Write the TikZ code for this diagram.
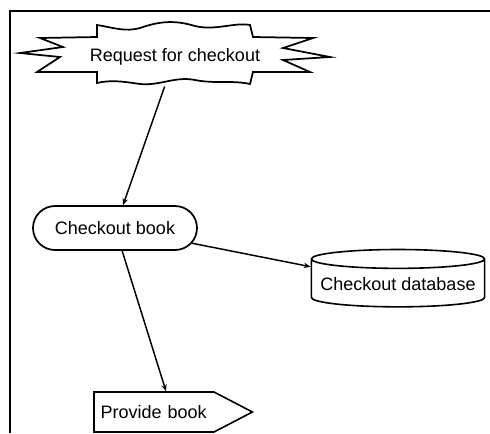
\documentclass[tikz,border=0pt]{standalone}
\usepackage{fontspec}
\setmainfont{Liberation Sans}
\usetikzlibrary{shapes.geometric,shapes.symbols,shapes.misc,arrows.meta}

\tikzset{
  flowtext/.style={font=\fontsize{13.5}{15}\selectfont, inner sep=0.75pt},
  flowline/.style={line width=1.1pt, -{Stealth[length=5pt,width=4pt]}},
  bookbox/.style={flowtext, rounded rectangle, draw, line width=1.3pt, minimum width=124.5pt, minimum height=33pt},
  dbbox/.style={flowtext, cylinder, shape border rotate=90, aspect=0.12, draw, line width=1.2pt, minimum width=130pt, minimum height=43pt},
  signalbox/.style={flowtext, signal, signal to=east, signal pointer angle=55, draw, line width=1.2pt, minimum height=30pt, text width=80pt, align=left, inner xsep=5pt}
}

\begin{document}
\begin{tikzpicture}[x=0.75pt,y=0.75pt,yscale=-1,xscale=1]
\useasboundingbox (0,0) rectangle (490,433);

%Frame
\draw [line width=1.3pt] (10,433) -- (10,11) -- (200,11) ;
\draw [line width=0.8pt] (200,11) -- (490,11) ;

%Starburst
\draw [line width=1.3pt] (97,25) .. controls (115,28) and (125,32) .. (140,28) .. controls (160,21) and (175,20) .. (195,26) .. controls (215,31) and (235,22) .. (250,25) -- (253,37) -- (313,38) -- (283,48) -- (330,57) -- (283,60) -- (310,72) -- (253,72) -- (250,84) .. controls (232,80) and (215,84) .. (195,80) .. controls (175,76) and (160,86) .. (140,84) .. controls (120,81) and (110,80) .. (97,83) -- (97,72) -- (37,72) -- (60,57) -- (20,53) -- (63,47) -- (40,38) -- (97,37) -- cycle ;

% Text Node
\node [flowtext, minimum width=117pt, minimum height=44pt] (request) at (175,57) {Request for checkout};
% Text Node
\node [bookbox] (book) at (115,228) {Checkout book};
% Text Node
\node [dbbox] (db) at (398,284) {Checkout database};
% Text Node
\node [signalbox] (provide) at (154,412) {Provide book};

%Connectors
\draw [flowline] (request) -- (book) ;
\draw [flowline] (book) -- (db) ;
\draw [flowline] (book) -- ([xshift=9pt]provide.north) ;

\end{tikzpicture}
\end{document}
